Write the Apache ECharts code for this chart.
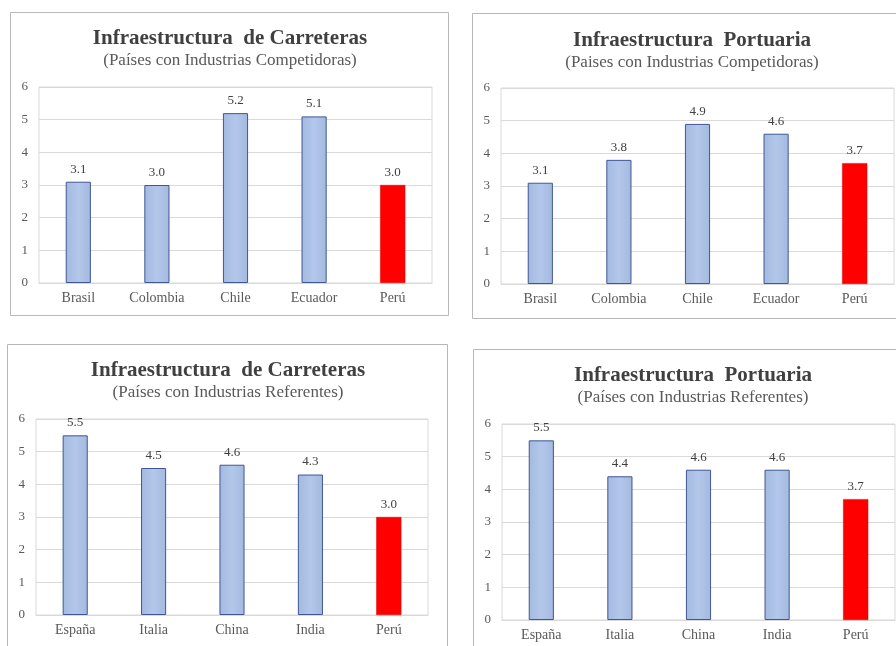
<!DOCTYPE html>
<html>
<head>
<meta charset="utf-8">
<script src="https://cdn.jsdelivr.net/npm/echarts@6/dist/echarts.min.js"></script>
<style>
  html, body { margin: 0; padding: 0; background: #ffffff; }
  #chart { width: 896px; height: 646px; }
</style>
</head>
<body>
<div id="chart"></div>
<script>
// Categories and values for each of the four panels
const competidores = ['Brasil', 'Colombia', 'Chile', 'Ecuador', 'Perú'];
const referentes = ['España', 'Italia', 'China', 'India', 'Perú'];

const carreterasCompetidores = [3.1, 3.0, 5.2, 5.1, 3.0];
const portuariaCompetidores = [3.1, 3.8, 4.9, 4.6, 3.7];
const carreterasReferentes = [5.5, 4.5, 4.6, 4.3, 3.0];
const portuariaReferentes = [5.5, 4.4, 4.6, 4.6, 3.7];

const yTicks = [0, 1, 2, 3, 4, 5, 6];

const titles = [
  'Infraestructura  de Carreteras',
  'Infraestructura  Portuaria',
  'Infraestructura  de Carreteras',
  'Infraestructura  Portuaria'
];
const subtitles = [
  '(Países con Industrias Competidoras)',
  '(Paises con Industrias Competidoras)',
  '(Países con Industrias Referentes)',
  '(Países con Industrias Referentes)'
];

// Layout of each panel: frame, plot area and title position
const panels = [
  { frame: [10, 12, 438, 303], grid: { left: 39, top: 87, width: 393, height: 196 }, tx: 230, ty: 28 },
  { frame: [472, 13, 430, 305], grid: { left: 501, top: 88, width: 393, height: 196 }, tx: 692, ty: 30 },
  { frame: [7, 344, 440, 310], grid: { left: 36, top: 419, width: 392, height: 196 }, tx: 228, ty: 360 },
  { frame: [473, 349, 430, 305], grid: { left: 502, top: 424, width: 393, height: 196 }, tx: 693, ty: 365 }
];

const cats = [competidores, competidores, referentes, referentes];
const vals = [carreterasCompetidores, portuariaCompetidores, carreterasReferentes, portuariaReferentes];

const FONT = '"Liberation Serif", "Times New Roman", serif';
const blueFill = {
  type: 'linear', x: 0, y: 0, x2: 1, y2: 0,
  colorStops: [
    { offset: 0, color: '#a3b9df' },
    { offset: 0.5, color: '#b3c7ea' },
    { offset: 1, color: '#a3b9df' }
  ]
};

const option = {
  animation: false,
  backgroundColor: '#ffffff',
  graphic: panels.map(p => ({
    type: 'rect',
    shape: { x: p.frame[0] + 0.5, y: p.frame[1] + 0.5, width: p.frame[2], height: p.frame[3] },
    style: { fill: '#ffffff', stroke: '#b8b8b8', lineWidth: 1 },
    z: -10
  })),
  title: panels.map((p, i) => ({
    text: titles[i],
    subtext: subtitles[i],
    left: p.tx,
    top: p.ty,
    padding: 0,
    textAlign: 'center',
    itemGap: 3,
    textStyle: { fontFamily: FONT, fontSize: 21, fontWeight: 'bold', color: '#404040' },
    subtextStyle: { fontFamily: FONT, fontSize: 17, color: '#595959' }
  })),
  grid: panels.map(p => Object.assign({ show: true, borderColor: '#d9d9d9', borderWidth: 1, backgroundColor: 'transparent' }, p.grid)),
  xAxis: cats.map((c, i) => ({
    type: 'category',
    gridIndex: i,
    data: c,
    axisTick: { show: false },
    axisLine: { lineStyle: { color: '#d9d9d9' } },
    axisLabel: { fontFamily: FONT, fontSize: 14, color: '#595959', margin: 8 }
  })),
  yAxis: cats.map((c, i) => ({
    type: 'value',
    gridIndex: i,
    min: yTicks[0],
    max: yTicks[yTicks.length - 1],
    interval: 1,
    axisLine: { show: false },
    axisTick: { show: false },
    splitLine: { lineStyle: { color: '#d9d9d9' } },
    axisLabel: { fontFamily: FONT, fontSize: 13, color: '#595959', margin: 11 }
  })),
  series: vals.map((v, i) => ({
    type: 'bar',
    xAxisIndex: i,
    yAxisIndex: i,
    barWidth: '32%',
    data: v.map((y, k) => {
      const isPeru = cats[i][k] === 'Perú';
      return {
        value: y,
        itemStyle: isPeru
          ? { color: '#ff0000', borderColor: '#e00000', borderWidth: 0.5 }
          : { color: blueFill, borderColor: '#3f5693', borderWidth: 1 }
      };
    }),
    label: {
      show: true,
      position: 'top',
      distance: 6,
      formatter: p => p.value.toFixed(1),
      fontFamily: FONT,
      fontSize: 13,
      color: '#404040'
    }
  }))
};

const chart = echarts.init(document.getElementById('chart'), null, { renderer: 'canvas' });
chart.setOption(option);
</script>
</body>
</html>
